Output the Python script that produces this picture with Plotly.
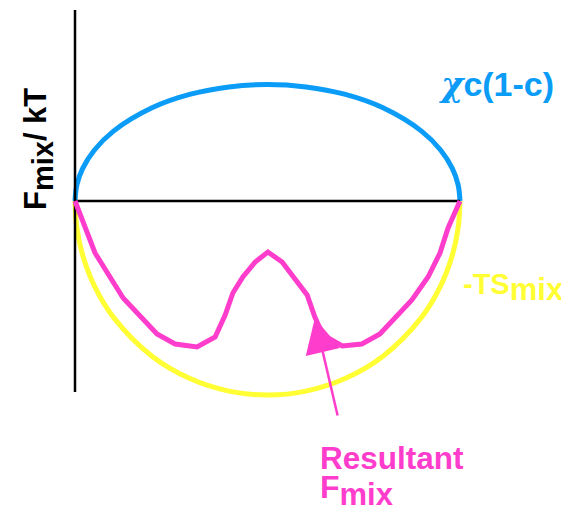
import plotly.graph_objects as go

# composition c
c_curve = [0, 0.005, 0.02, 0.05, 0.1, 0.2, 0.3, 0.4, 0.5, 0.6, 0.7, 0.8, 0.9, 0.95, 0.98, 0.995, 1]
# enthalpic term chi*c(1-c) (upper arc)
enthalpy = [0, 0.164, 0.326, 0.508, 0.699, 0.932, 1.068, 1.141, 1.165, 1.141, 1.068, 0.932, 0.699, 0.508, 0.326, 0.164, 0]
# entropic term -T*S_mix (lower arc)
entropy = [0, -0.274, -0.543, -0.846, -1.164, -1.552, -1.778, -1.901, -1.94, -1.901, -1.778, -1.552, -1.164, -0.846, -0.543, -0.274, 0]

# resultant free energy of mixing
c_res = [0, 0.026, 0.052, 0.125, 0.213, 0.260, 0.317, 0.364, 0.390, 0.410, 0.436, 0.468, 0.501,
         0.538, 0.566, 0.603, 0.623, 0.644, 0.694, 0.745, 0.792, 0.836, 0.875, 0.917, 0.948, 0.969, 1.0]
f_res = [0, -0.27, -0.52, -0.97, -1.33, -1.43, -1.46, -1.36, -1.14, -0.92, -0.76, -0.61, -0.51,
         -0.61, -0.76, -0.94, -1.16, -1.34, -1.45, -1.43, -1.33, -1.14, -0.99, -0.76, -0.52, -0.27, 0]

axis_x = [0, 0]
axis_y = [1.91, -1.91]
zero_x = [0, 1]
zero_y = [0, 0]

BLUE = "#0a9cf7"
YELLOW = "#ffff33"
PINK = "#ff3dcc"
FONT = "Liberation Sans, Arial, sans-serif"

fig = go.Figure()
fig.add_trace(go.Scatter(x=c_curve, y=entropy, mode="lines",
                         line=dict(color=YELLOW, width=5, shape="spline", smoothing=1.0)))
fig.add_trace(go.Scatter(x=c_curve, y=enthalpy, mode="lines",
                         line=dict(color=BLUE, width=5, shape="spline", smoothing=1.0)))
fig.add_trace(go.Scatter(x=axis_x, y=axis_y, mode="lines", line=dict(color="black", width=2.5)))
fig.add_trace(go.Scatter(x=zero_x, y=zero_y, mode="lines", line=dict(color="black", width=2.5)))
fig.add_trace(go.Scatter(x=c_res, y=f_res, mode="lines", line=dict(color=PINK, width=5)))

ann = []
ann.append(dict(x=-0.096, y=0.52, xref="x", yref="y", showarrow=False, textangle=-90,
                text="<b>F<sub><span style='font-size:29px'>mix</span></sub>/ kT</b>",
                font=dict(family=FONT, size=31, color="black")))
ann.append(dict(x=0.94, y=1.17, xref="x", yref="y", showarrow=False, xanchor="left", yanchor="middle",
                text="<b><span style=\"font-family:'DejaVu Serif';font-style:italic\">χ</span>c(1-c)</b>",
                font=dict(family=FONT, size=34, color=BLUE)))
ann.append(dict(x=1.003, y=-0.86, xref="x", yref="y", showarrow=False, xanchor="left", yanchor="middle",
                text="<b>-TS<sub><span style='font-size:31px'>mix</span></sub></b>",
                font=dict(family=FONT, size=29, color=YELLOW)))
ann.append(dict(x=0.631, y=-2.57, xref="x", yref="y", showarrow=False, xanchor="left", yanchor="middle",
                text="<b>Resultant</b>", font=dict(family=FONT, size=31.5, color=PINK)))
ann.append(dict(x=0.631, y=-2.89, xref="x", yref="y", showarrow=False, xanchor="left", yanchor="middle",
                text="<b>F<sub><span style='font-size:31px'>mix</span></sub></b>",
                font=dict(family=FONT, size=32, color=PINK)))
ann.append(dict(x=0.623, y=-1.17, xref="x", yref="y", ax=0.683, ay=-2.16, axref="x", ayref="y",
                showarrow=True, arrowhead=2, arrowsize=2.8, arrowwidth=2.5, arrowcolor=PINK, text=""))

# page body has an 8px margin: plot px = page px - 8
W, H = 561, 503
X0, Y0 = 67, 193   # pixel position of c=0, F=0
SX, SY = 385, 100  # pixels per data unit

fig.update_layout(
    width=W, height=H, autosize=False,
    margin=dict(l=0, r=0, t=0, b=0),
    paper_bgcolor="white", plot_bgcolor="white",
    showlegend=False,
    xaxis=dict(range=[-X0 / SX, (W - X0) / SX], visible=False, fixedrange=True),
    yaxis=dict(range=[(Y0 - H) / SY, Y0 / SY], visible=False, fixedrange=True),
    annotations=ann,
)
fig.write_html("out.html")
